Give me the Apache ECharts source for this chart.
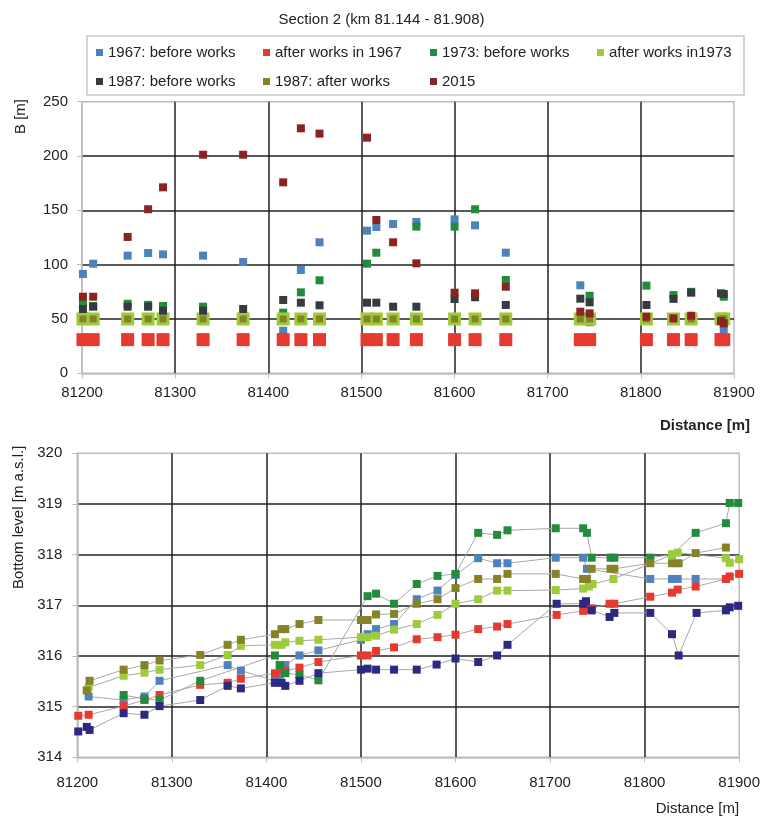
<!DOCTYPE html>
<html><head><meta charset="utf-8">
<script src="https://cdn.jsdelivr.net/npm/echarts@6/dist/echarts.min.js"></script>
<style>html,body{margin:0;padding:0;background:#fff}#c{width:763px;height:818px}</style>
</head><body><div id="c"></div>
<script>
// ---------- Top chart: width B [m] ----------
const topDist = [81201,81212,81249,81271,81287,81330,81373,81416,81435,81455,81506,81516,81534,81559,81600,81622,81655,81735,81745,81806,81835,81854,81886,81889];
const topB1967Before = [91.4,100.9,108.3,110.7,109.5,108.3,102.4,39.2,95.1,120.6,131.3,134.7,137.4,139.3,141.7,136.2,111.0,81.0,47,null,null,null,null,40.8];
const topB1967After  = [31,31,31,31,31,31,31,31,31,31,31,31,31,31,31,31,31,31,31,31,31,31,31,31];
const topB1973Before = [64.4,62,64,63,62,61.3,null,55.8,74.5,85.6,100.9,111,null,135,135,151,85.9,null,71.4,80.7,72,75,null,70.5];
const topB1973After  = [50,50,50,50,50,50,50,50,50,50,50,50,50,50,50,50,50,50,50,50,50,50,50,50];
const topB1987Before = [59.2,61.3,61.3,61.3,57.6,57.6,59.2,67.5,65,62.6,65,65,61.3,61.3,68.4,70,62.9,68.7,65.3,62.9,68.5,74.2,73.6,73];
const topB1987After  = [50,50,50,50,50,50,50,50,50,50,50,50,50,50,50,50,50,50,50,50,50,50,50,50];
const topB2015       = [70.5,70.5,125.5,151,171.2,201.2,201.2,175.8,225.5,220.6,216.9,141.1,120.6,101.2,74.2,73.6,79.7,56.7,55.2,52.1,50.6,53,48.1,46];

// ---------- Bottom chart: bottom level [m a.s.l.] ----------
const botX1967Before = [81212,81249,81271,81287,81359,81373,81409,81414,81420,81435,81455,81500,81507,81516,81535,81559,81581,81600,81624,81644,81655,81706,81735,81739,81806,81829,81835,81854,81886];
const botY1967Before = [315.20,315.13,315.20,315.51,315.82,315.71,315.51,315.63,315.82,316.01,316.11,316.32,316.43,316.53,316.63,317.12,317.29,317.60,317.93,317.83,317.83,317.94,317.94,317.72,317.52,317.52,317.52,317.52,317.52];
const botX1967After = [81201,81212,81249,81271,81287,81330,81359,81373,81409,81416,81420,81435,81455,81500,81507,81516,81535,81559,81581,81600,81624,81644,81655,81707,81735,81741,81744,81763,81768,81806,81829,81835,81854,81886,81890,81900];
const botY1967After = [314.82,314.84,315.01,315.13,315.23,315.43,315.47,315.55,315.66,315.73,315.70,315.77,315.88,316.01,316.01,316.10,316.17,316.33,316.37,316.42,316.53,316.58,316.63,316.81,316.89,316.92,316.94,317.03,317.03,317.17,317.25,317.31,317.37,317.52,317.57,317.62];
const botX1973Before = [81249,81271,81287,81330,81409,81414,81420,81435,81455,81507,81516,81535,81559,81581,81600,81624,81644,81655,81706,81735,81739,81744,81764,81768,81806,81829,81854,81886,81890,81899];
const botY1973Before = [315.23,315.15,315.13,315.51,316.01,315.82,315.66,315.63,315.52,317.18,317.23,317.03,317.42,317.58,317.62,318.43,318.39,318.48,318.52,318.52,318.43,317.94,317.94,317.94,317.94,318.00,318.43,318.62,319.02,319.02];
const botX1973After = [81212,81249,81271,81287,81330,81359,81373,81409,81416,81420,81435,81455,81500,81507,81516,81535,81559,81581,81600,81624,81644,81655,81706,81735,81741,81745,81767,81829,81835,81886,81890,81900];
const botY1973After = [315.38,315.61,315.67,315.73,315.82,316.02,316.20,316.22,316.22,316.27,316.30,316.32,316.37,316.37,316.40,316.52,316.63,316.81,317.03,317.12,317.29,317.29,317.30,317.33,317.37,317.42,317.52,318.00,318.04,317.93,317.84,317.91];
const botX1987After = [81210,81213,81249,81271,81287,81330,81359,81373,81409,81416,81420,81435,81455,81500,81507,81516,81535,81559,81581,81600,81624,81644,81655,81706,81735,81739,81744,81764,81768,81806,81829,81836,81854,81886];
const botY1987After = [315.32,315.51,315.73,315.82,315.91,316.02,316.22,316.32,316.43,316.53,316.53,316.63,316.71,316.71,316.71,316.82,316.83,317.03,317.12,317.34,317.52,317.52,317.62,317.62,317.52,317.52,317.72,317.72,317.72,317.83,317.83,317.83,318.03,318.14];
const botX2015 = [81201,81210,81213,81249,81271,81287,81330,81359,81373,81409,81416,81420,81435,81455,81500,81507,81516,81535,81559,81580,81600,81624,81644,81655,81707,81735,81738,81744,81763,81768,81806,81829,81836,81855,81886,81890,81899];
const botY2015 = [314.51,314.60,314.54,314.87,314.84,315.01,315.13,315.41,315.36,315.47,315.47,315.41,315.51,315.66,315.73,315.75,315.73,315.73,315.73,315.83,315.95,315.88,316.01,316.22,317.03,317.03,317.08,316.90,316.77,316.85,316.85,316.43,316.01,316.85,316.90,316.96,316.99];

const xTicksMin = 81200, xTicksMax = 81900, xTickStep = 100;
const names = ['1967: before works','after works in 1967','1973: before works','after works in1973','1987: before works','1987: after works','2015'];
const colors = ['#4f81bd','#e63a30','#238b3c','#9dcb3a','#353b40','#858228','#8b2323'];
const navy = '#2b2a80';

const pairs = (xs, ys) => xs.map((x,i)=>[x, ys[i]]).filter(p=>p[1]!=null);
const font = '"Liberation Sans", Arial, sans-serif';
const txt = '#222';
const gridLine = {show:true, showMinLine:false, showMaxLine:false, lineStyle:{color:'#222', width:1.5}};
const axisGray = {show:true, lineStyle:{color:'#bdbdbd', width:1.5}};
const tickGray = {show:true, length:5, lineStyle:{color:'#bdbdbd', width:1}};

const topSeriesVals = [topB1967Before, topB1967After, topB1973Before, topB1973After, topB1987Before, topB1987After, topB2015];
const topSizes = [8, 13, 8, 13, 8, 7, 8];
const topSeries = topSeriesVals.map((vals,i)=>({
  name: names[i], type:'scatter', xAxisIndex:0, yAxisIndex:0,
  symbol:'rect', symbolSize: topSizes[i],
  itemStyle:{color: colors[i], opacity:1},
  emphasis:{disabled:true},
  data: pairs(topDist, vals)
}));

const botDefs = [
  [names[0], botX1967Before, botY1967Before, colors[0]],
  [names[1], botX1967After, botY1967After, colors[1]],
  [names[2], botX1973Before, botY1973Before, colors[2]],
  [names[3], botX1973After, botY1973After, colors[3]],
  [names[5], botX1987After, botY1987After, colors[5]],
  ['bottom level (navy)', botX2015, botY2015, navy]
];
const botSeries = botDefs.map(d=>({
  name: d[0], type:'line', xAxisIndex:1, yAxisIndex:1,
  symbol:'rect', symbolSize:8, showSymbol:true,
  lineStyle:{color:'#a8a8a8', width:1},
  itemStyle:{color:d[3], opacity:1},
  emphasis:{disabled:true},
  data: pairs(d[1], d[2])
}));

const chart = echarts.init(document.getElementById('c'));
chart.setOption({
  animation:false,
  textStyle:{fontFamily:font},
  title:{text:'Section 2 (km 81.144 - 81.908)', left:'center', top:7,
    textStyle:{fontSize:15, fontWeight:'normal', color:txt, fontFamily:font}},
  legend:{data:names, left:96, top:45, width:680, padding:0, itemWidth:7, itemHeight:7, itemGap:14,
    icon:'rect', itemStyle:{opacity:1},
    textStyle:{fontSize:15, color:txt, width:141, lineHeight:14, fontFamily:font}},
  graphic:[{type:'rect', shape:{x:87, y:36, width:657, height:59},
    style:{fill:'none', stroke:'#c8c8c8', lineWidth:1.5}}],
  grid:[
    {left:82, right:29, top:101.7, bottom:444.7, show:true, borderColor:'#bdbdbd', borderWidth:1.5},
    {left:77.3, right:22, top:453.3, bottom:60.7, show:true, borderColor:'#bdbdbd', borderWidth:1.5}
  ],
  xAxis:[
    {type:'value', gridIndex:0, min:xTicksMin, max:xTicksMax, interval:xTickStep,
     axisLine:axisGray, axisTick:tickGray, splitLine:gridLine,
     axisLabel:{fontSize:15, color:txt, margin:12, formatter:v=>String(v)},
     name:'Distance [m]', nameLocation:'end', nameGap:16,
     nameTextStyle:{fontSize:15, fontWeight:'bold', color:txt, align:'right', verticalAlign:'top', padding:[45,0,0,0]}},
    {type:'value', gridIndex:1, min:xTicksMin, max:xTicksMax, interval:xTickStep,
     axisLine:axisGray, axisTick:tickGray, splitLine:gridLine,
     axisLabel:{fontSize:15, color:txt, margin:18, formatter:v=>String(v)},
     name:'Distance [m]', nameLocation:'end', nameGap:0,
     nameTextStyle:{fontSize:15, color:txt, align:'right', verticalAlign:'top', padding:[44,0,0,0]}}
  ],
  yAxis:[
    {type:'value', gridIndex:0, min:0, max:250, interval:50,
     axisLine:axisGray, axisTick:tickGray, splitLine:gridLine,
     axisLabel:{fontSize:15, color:txt, margin:14},
     name:'B [m]', nameLocation:'middle', nameGap:54,
     nameTextStyle:{fontSize:15, color:txt, padding:[0,0,0,242]}},
    {type:'value', gridIndex:1, min:314, max:320, interval:1,
     axisLine:axisGray, axisTick:tickGray, splitLine:gridLine,
     axisLabel:{fontSize:15, color:txt, margin:15},
     name:'Bottom level [m a.s.l.]', nameLocation:'middle', nameGap:45,
     nameTextStyle:{fontSize:15, color:txt, padding:[0,0,0,176]}}
  ],
  series: topSeries.concat(botSeries)
});
</script>
</body></html>
